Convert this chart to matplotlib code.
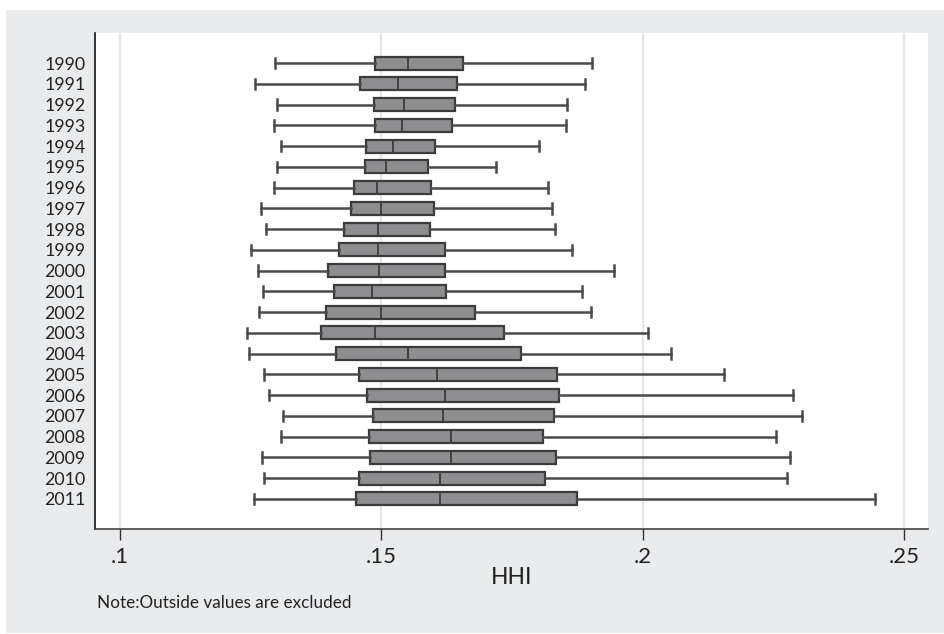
import matplotlib
matplotlib.use('Agg')
import matplotlib.pyplot as plt
from matplotlib.patches import Rectangle

plt.rcParams['font.family'] = ['Lato', 'DejaVu Sans']

# box plot summary per year (outside values excluded)
years = [str(y) for y in range(1990, 2012)]
lo = [0.1298, 0.1259, 0.1302, 0.1295, 0.1308, 0.1301, 0.1295, 0.1271, 0.1280, 0.1251, 0.1264,
      0.1274, 0.1266, 0.1243, 0.1248, 0.1277, 0.1285, 0.1312, 0.1309, 0.1272, 0.1276, 0.1257]
q1 = [0.1488, 0.1459, 0.1486, 0.1488, 0.1472, 0.1469, 0.1448, 0.1442, 0.1430, 0.1419, 0.1399,
      0.1410, 0.1395, 0.1385, 0.1413, 0.1457, 0.1474, 0.1484, 0.1477, 0.1478, 0.1457, 0.1453]
med = [0.1552, 0.1533, 0.1544, 0.1540, 0.1523, 0.1509, 0.1493, 0.1500, 0.1494, 0.1495, 0.1497,
       0.1483, 0.1500, 0.1488, 0.1551, 0.1608, 0.1622, 0.1619, 0.1634, 0.1634, 0.1612, 0.1612]
q3 = [0.1657, 0.1646, 0.1642, 0.1635, 0.1604, 0.1590, 0.1596, 0.1601, 0.1593, 0.1623, 0.1623,
      0.1624, 0.1680, 0.1735, 0.1768, 0.1836, 0.1840, 0.1830, 0.1810, 0.1835, 0.1813, 0.1874]
hi = [0.1904, 0.1891, 0.1856, 0.1853, 0.1802, 0.1720, 0.1819, 0.1827, 0.1833, 0.1865, 0.1946,
      0.1885, 0.1902, 0.2010, 0.2054, 0.2156, 0.2288, 0.2305, 0.2256, 0.2282, 0.2277, 0.2444]

stats = []
for i in range(len(years)):
    stats.append({'whislo': lo[i], 'q1': q1[i], 'med': med[i], 'q3': q3[i],
                  'whishi': hi[i], 'fliers': [], 'label': years[i]})

fig = plt.figure(figsize=(9.45, 6.34), dpi=100)
fig.patch.set_facecolor('white')
# grey graph region behind the white plot area
fig.patches.append(Rectangle((6 / 945, 1 / 634), 939 / 945, 623 / 634,
                             transform=fig.transFigure, facecolor='#EAEBED',
                             edgecolor='none', zorder=-10))

ax = fig.add_axes([95.3 / 945, 1 - 529 / 634, (928 - 95.3) / 945, (529 - 33) / 634])
ax.set_facecolor('white')

ax.bxp(stats, positions=range(len(years)), orientation='horizontal', widths=0.62,
       capwidths=0.5, showfliers=False, patch_artist=True,
       boxprops=dict(facecolor='#8E8E90', edgecolor='#3C3C3C', linewidth=1.6),
       medianprops=dict(color='#3C3C3C', linewidth=1.3),
       whiskerprops=dict(color='#4A4A4A', linewidth=1.8),
       capprops=dict(color='#4A4A4A', linewidth=1.8))

ax.set_ylim(len(years) - 1 + 1.45, -1.45)
ax.set_xlim(0.09537, 0.25459)
ax.set_xticks([0.1, 0.15, 0.2, 0.25])
ax.set_xticklabels(['.1', '.15', '.2', '.25'], fontsize=16, color='#222222')
ax.set_yticks(range(len(years)))
ax.set_yticklabels(years, fontsize=12.8, color='#222222')
ax.tick_params(axis='y', length=0, pad=7)
ax.tick_params(axis='x', length=8, width=1, color='#333333', pad=5)
ax.xaxis.grid(True, color='#E6E6E6', linewidth=1.6)
ax.set_axisbelow(True)

for side in ['top', 'right']:
    ax.spines[side].set_visible(False)
ax.spines['left'].set_color('#111111')
ax.spines['bottom'].set_color('#444444')
ax.spines['left'].set_linewidth(1.2)
ax.spines['bottom'].set_linewidth(1.2)

ax.set_xlabel('HHI', fontsize=16.5, color='#222222', labelpad=0)
fig.text(97 / 945, 1 - 603 / 634, 'Note:Outside values are excluded', fontsize=12.3,
         color='#222222', va='center', ha='left')

plt.savefig('out.png', dpi=100, facecolor=fig.get_facecolor())
